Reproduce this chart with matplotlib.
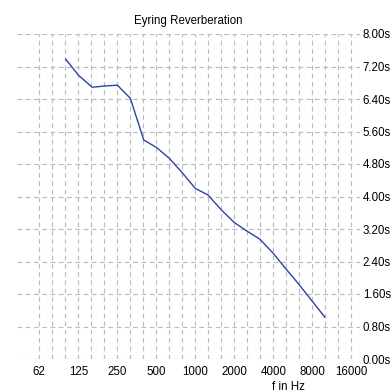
import numpy as np
import matplotlib
matplotlib.use("Agg")
import matplotlib.pyplot as plt
from matplotlib.ticker import FixedLocator, NullFormatter, FixedFormatter

plt.rcParams['font.family'] = ['Liberation Sans', 'DejaVu Sans']

# Data: 1/3-octave band centre frequencies and Eyring reverberation times (s)
freqs = [100, 125, 160, 200, 250, 315, 400, 500, 630, 800, 1000, 1250,
         1600, 2000, 2500, 3150, 4000, 5000, 6300, 8000, 10000]
rt_eyring = [7.38, 6.99, 6.69, 6.72, 6.74, 6.42, 5.39, 5.21, 4.94, 4.57, 4.20, 4.04,
             3.66, 3.36, 3.15, 2.95, 2.60, 2.22, 1.84, 1.42, 1.03]

octave_ticks = [62.5, 125, 250, 500, 1000, 2000, 4000, 8000, 16000]
octave_labels = ["62", "125", "250", "500", "1000", "2000", "4000", "8000", "16000"]
y_ticks = [0.0, 0.8, 1.6, 2.4, 3.2, 4.0, 4.8, 5.6, 6.4, 7.2, 8.0]

W, H = 391, 392
fig = plt.figure(figsize=(W / 100, H / 100), dpi=100)
ax = fig.add_axes([17 / W, (H - 359) / H, 343 / W, 325 / H])

ax.set_xscale('log', base=2)
# axis limits (pixels: 62.5 Hz at 39.3, 39 px per octave)
ax.set_xlim(62.5 * 2 ** ((17 - 39.3) / 39), 62.5 * 2 ** ((360 - 39.3) / 39))
ax.set_ylim(0, 8.0)

grid_kw = dict(color='#bcbcbc', linewidth=0.85, linestyle=(0, (4, 3)), zorder=1)
third_oct = [62.5 * 2 ** (k / 3) for k in range(0, 25)]
for f in third_oct:
    ax.axvline(f, **grid_kw)
for v in y_ticks:
    ax.axhline(v, **grid_kw)

ax.plot(freqs, rt_eyring, color='#2c44a4', linewidth=1.0, zorder=3)

for s in ax.spines.values():
    s.set_visible(False)

fs = 8.3
ax.xaxis.set_major_locator(FixedLocator(octave_ticks))
ax.xaxis.set_major_formatter(FixedFormatter(octave_labels))
ax.xaxis.set_minor_locator(FixedLocator([]))
ax.xaxis.set_minor_formatter(NullFormatter())
ax.tick_params(axis='x', length=0, pad=5, labelsize=fs, colors='black')

ax.yaxis.tick_right()
ax.set_yticks(y_ticks)
ax.set_yticklabels([f"{v:.2f}s" for v in y_ticks])
ax.tick_params(axis='y', length=0, pad=2, labelsize=fs, colors='black')

ax.set_title("Eyring Reverberation", fontsize=fs, pad=7)
ax.set_xlabel("f in Hz", fontsize=fs)
ax.xaxis.set_label_coords((288 - 17) / 343, -0.068)

fig.savefig("out.png", dpi=100, facecolor='white')
